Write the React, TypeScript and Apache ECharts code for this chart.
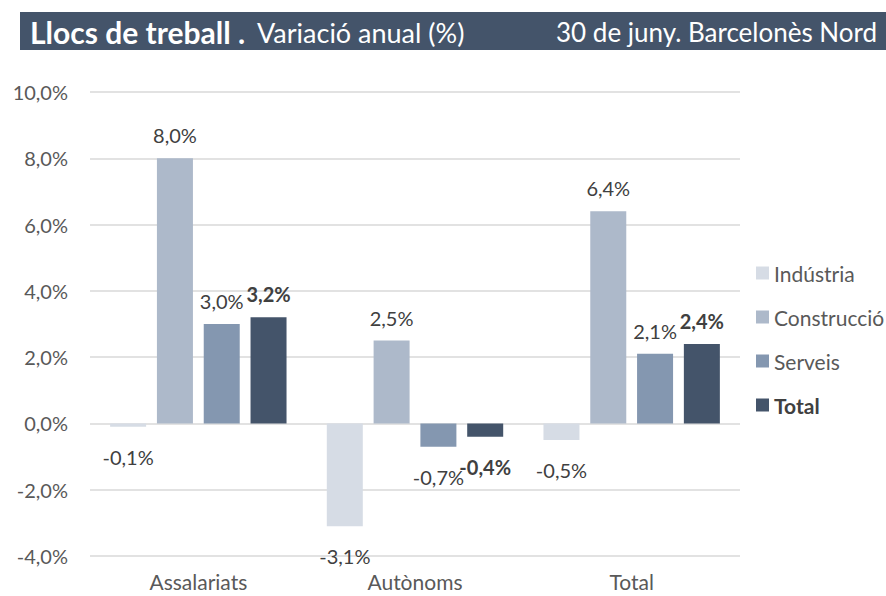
import React, { useEffect, useRef } from "react";
import * as echarts from "echarts";

const categories = ["Assalariats", "Autònoms", "Total"];
const seriesNames = ["Indústria", "Construcció", "Serveis", "Total"];
const industria = [-0.1, -3.1, -0.5];
const construccio = [8.0, 2.5, 6.4];
const serveis = [3.0, -0.7, 2.1];
const total = [3.2, -0.4, 2.4];
const colors = ["#d6dce5", "#adb9ca", "#8497b0", "#44546a"];
const yTicks = { min: -4, max: 10, interval: 2 };

const FONT = "Lato";

export default function App() {
  const ref = useRef<HTMLDivElement>(null);
  useEffect(() => {
    const chart = echarts.init(ref.current!, null, { renderer: "svg" });
    const allData = [industria, construccio, serveis, total];
    const fmt = (v: number) => v.toFixed(1).replace(".", ",") + "%";
    const series = allData.map((arr, si) => ({
      name: seriesNames[si],
      type: "bar",
      barWidth: 36,
      barGap: "30%",
      itemStyle: { color: colors[si] },
      data: arr.map((v) => ({
        value: v,
        label: {
          show: true,
          position: v < 0 ? "bottom" : "top",
          distance: v < 0 ? 20 : 13,
          formatter: () => fmt(v),
          color: "#404040",
          fontFamily: FONT,
          fontSize: 20,
          fontWeight: si === 3 ? "bold" : "normal",
        },
      })),
    }));
    chart.setOption({
      animation: false,
      backgroundColor: "#ffffff",
      grid: { left: 90, right: 146, top: 92, bottom: 40, containLabel: false },
      legend: {
        orient: "vertical",
        left: 751,
        top: 256,
        icon: "rect",
        itemWidth: 13,
        itemHeight: 13,
        itemGap: 20,
        data: seriesNames,
        textStyle: {
          color: "#595959",
          fontFamily: FONT,
          fontSize: 21,
          lineHeight: 24,
          rich: { b: { fontWeight: "bold", fontFamily: FONT, fontSize: 21, lineHeight: 24, color: "#404040" } },
        },
        formatter: (name: string) => (name === "Total" ? "{b|Total}" : name),
        selectedMode: false,
      },
      xAxis: {
        type: "category",
        data: categories,
        axisLine: { show: false, onZero: false },
        axisTick: { show: false },
        axisLabel: { color: "#595959", fontFamily: FONT, fontSize: 21, margin: 15 },
      },
      yAxis: {
        type: "value",
        min: yTicks.min,
        max: yTicks.max,
        interval: yTicks.interval,
        axisLabel: {
          color: "#595959",
          fontFamily: FONT,
          fontSize: 20,
          margin: 22,
          formatter: (v: number) => fmt(v),
        },
        splitLine: { lineStyle: { color: "#d9d9d9", width: 1.5 } },
        axisLine: { show: false },
        axisTick: { show: false },
      },
      series,
      graphic: [
        {
          type: "rect",
          left: 20,
          top: 12,
          shape: { width: 866, height: 38 },
          style: { fill: "#44546a" },
        },
        {
          type: "text",
          x: 30,
          y: 32,
          style: {
            text: "{b|Llocs de treball .}{n|Variació anual (%)}",
            verticalAlign: "middle",
            rich: {
              b: { fontFamily: FONT, fontSize: 30, fontWeight: "bold", fill: "#ffffff" },
              n: { fontFamily: FONT, fontSize: 27, fill: "#ffffff", padding: [0, 0, 0, 12] },
            },
          },
        },
        {
          type: "text",
          x: 556,
          y: 32,
          style: {
            text: "30 de juny. Barcelonès Nord",
            verticalAlign: "middle",
            fontFamily: FONT,
            fontSize: 26,
            fill: "#ffffff",
          },
        },
      ],
    });
    return () => chart.dispose();
  }, []);
  return <div ref={ref} style={{ width: 886, height: 596, position: "absolute", left: 0, top: 0 }} />;
}
